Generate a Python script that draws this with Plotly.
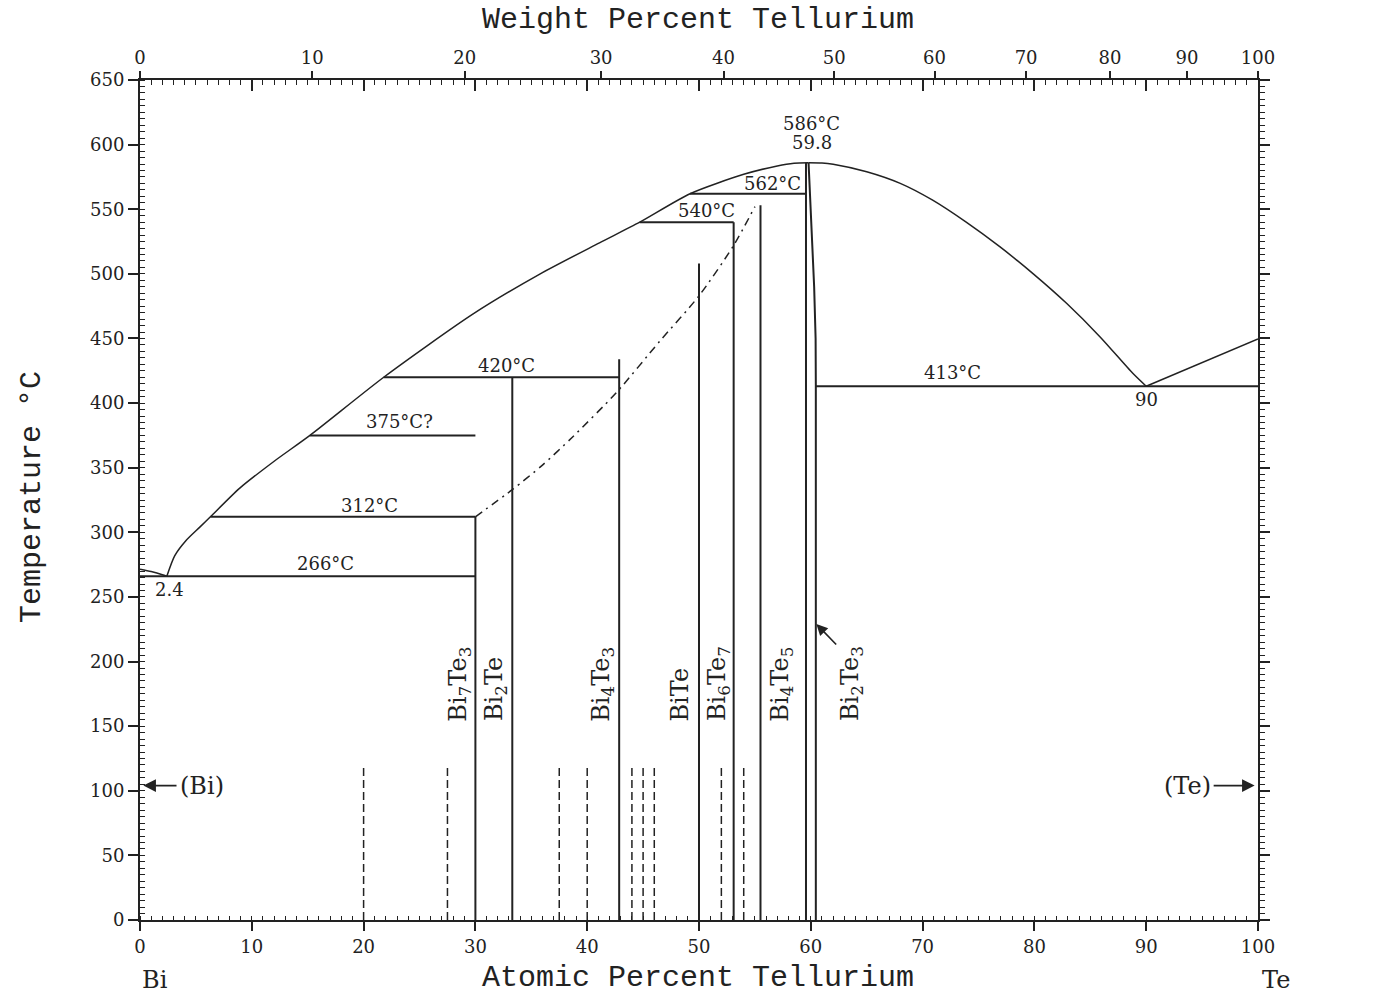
import plotly.graph_objects as go

# ---- Bi-Te phase diagram data (x: atomic percent Te, y: temperature in °C) ----

# (Bi) melting to Bi-rich eutectic
bi_side_x = [0.0, 1.0, 2.0, 2.4]
bi_side_t = [271.442, 269.6, 267.2, 266.0]

# liquidus from the Bi-rich eutectic up to the congruent maximum of Bi2Te3
liq_left_x = [2.4, 3.1, 4.1, 5.35, 6.3, 8.9, 12.0, 15.2, 21.8, 29.8, 35.8, 41.1, 44.7, 49.2, 54.0, 57.0, 58.5, 59.8]
liq_left_t = [266, 281.8, 293.5, 304, 312, 334, 355, 375, 420, 469, 500, 524, 540, 562, 577, 583.5, 585.6, 586]

# liquidus from the maximum down to the Te-rich eutectic
liq_right_x = [59.8, 61.0, 62.0, 65.0, 68.0, 70.9, 73.9, 76.9, 79.9, 82.9, 85.9, 88.8, 90.0]
liq_right_t = [586, 585.8, 584.8, 579, 570, 557, 540, 521, 500, 477, 451, 423, 413]

# Te-rich eutectic to (Te) melting
te_side_x = [90.0, 100.0]
te_side_t = [413, 449.57]

# speculative boundary (dash-dot)
dashdot_x = [30.0, 33.3, 36.0, 38.6, 42.6, 46.5, 50.0, 53.1, 55.0]
dashdot_t = [312, 333, 352, 373, 408, 448, 483, 522, 552]

# isotherms: (left end, right end, temperature)
iso_left = [0.0, 6.3, 15.2, 21.8, 44.7, 49.2, 60.45]
iso_right = [30.0, 30.0, 30.0, 42.86, 53.1, 59.57, 100.0]
iso_temp = [266, 312, 375, 420, 540, 562, 413]

# intermediate phases drawn as vertical lines: (composition, top temperature)
phase_x = [30.0, 33.3, 42.86, 50.0, 53.1, 55.5, 59.57]
phase_top = [312, 420, 434, 508, 540, 553, 586]

# Bi2Te3 Te-rich homogeneity boundary
bi2te3_right_x = [59.8, 59.95, 60.1, 60.3, 60.43, 60.45, 60.45]
bi2te3_right_t = [586, 560, 530, 490, 450, 413, 0]

# short dashed lines for low-temperature phases
dashed_x = [20.0, 27.5, 37.5, 40.0, 44.0, 45.0, 46.0, 52.0, 54.0]
dashed_top = 118

# phase labels
phase_names = ["Bi<sub>7</sub>Te<sub>3</sub>", "Bi<sub>2</sub>Te", "Bi<sub>4</sub>Te<sub>3</sub>", "BiTe",
               "Bi<sub>6</sub>Te<sub>7</sub>", "Bi<sub>4</sub>Te<sub>5</sub>", "Bi<sub>2</sub>Te<sub>3</sub>"]
phase_label_x = [28.5, 31.8, 41.3, 48.3, 51.7, 57.3, 63.6]

# temperature / composition labels: (x, T, text)
note_x = [60.1, 60.1, 56.6, 50.7, 32.8, 23.2, 20.5, 16.6, 2.6, 72.7, 90.0]
note_t = [616, 601.3, 570.3, 549.4, 428.7, 385.4, 321.1, 276, 255.4, 423.3, 402.4]
note_text = ["586°C", "59.8", "562°C", "540°C", "420°C", "375°C?", "312°C", "266°C", "2.4", "413°C", "90"]

# axis ticks
at_ticks = list(range(0, 101, 10))
wt_ticks = [0, 10, 20, 30, 40, 50, 60, 70, 80, 90, 100]
M_BI, M_TE = 208.98, 127.60


def wt_to_at(w):
    if w >= 100:
        return 100.0
    nt = w / M_TE
    nb = (100 - w) / M_BI
    return 100 * nt / (nt + nb)


wt_pos = [wt_to_at(w) for w in wt_ticks]

INK = "#222222"
SERIF = "DejaVu Serif"
MONO = "Liberation Mono, Courier New, monospace"

fig = go.Figure()


def line(x, y, width=2.0, dash="solid", shape="linear"):
    fig.add_trace(go.Scatter(x=x, y=y, mode="lines",
                             line=dict(color=INK, width=width, dash=dash, shape=shape, smoothing=0.7),
                             hoverinfo="skip", showlegend=False))


line(bi_side_x, bi_side_t, 1.5, shape="spline")
line(liq_left_x, liq_left_t, 1.5, shape="spline")
line(liq_right_x, liq_right_t, 1.5, shape="spline")
line(te_side_x, te_side_t, 1.5)
line(dashdot_x, dashdot_t, 1.5, "8px,5px,2px,5px", shape="spline")

for xl, xr, t in zip(iso_left, iso_right, iso_temp):
    line([xl, xr], [t, t], 2.0)

for xp, tp in zip(phase_x, phase_top):
    line([xp, xp], [0, tp], 2.0)

line(bi2te3_right_x, bi2te3_right_t, 2.0)

for xd in dashed_x:
    line([xd, xd], [0, dashed_top], 1.5, "8px,4px")

# placeholder traces so the secondary axes are drawn
fig.add_trace(go.Scatter(x=[0, 100], y=[0, 0], xaxis="x2", yaxis="y", mode="lines",
                         line=dict(width=0), opacity=0, hoverinfo="skip", showlegend=False))
fig.add_trace(go.Scatter(x=[0, 100], y=[0, 0], xaxis="x3", yaxis="y", mode="lines",
                         line=dict(width=0), opacity=0, hoverinfo="skip", showlegend=False))
fig.add_trace(go.Scatter(x=[0, 100], y=[0, 0], xaxis="x", yaxis="y2", mode="lines",
                         line=dict(width=0), opacity=0, hoverinfo="skip", showlegend=False))

ann = []
for xn, tn, s in zip(note_x, note_t, note_text):
    ann.append(dict(x=xn, y=tn, text=s, xref="x", yref="y", showarrow=False,
                    xanchor="center", yanchor="middle",
                    font=dict(family=SERIF, size=18, color=INK)))

ann.append(dict(x=-0.6, y=276, text="271.442", xref="x", yref="y", showarrow=False, xanchor="right",
                yanchor="middle", font=dict(family=SERIF, size=18, color=INK)))
ann.append(dict(x=101.2, y=454.2, text="449.57°C", xref="x", yref="y", showarrow=False, xanchor="left",
                yanchor="middle", font=dict(family=SERIF, size=18, color=INK)))

for xl, s in zip(phase_label_x, phase_names):
    ann.append(dict(x=xl, y=152, text=s, xref="x", yref="y", showarrow=False, textangle=-90,
                    xanchor="center", yanchor="bottom", font=dict(family=SERIF, size=24, color=INK)))

# pure-element solid solutions
ann.append(dict(x=5.55, y=104, text="(Bi)", xref="x", yref="y", showarrow=False,
                xanchor="center", yanchor="middle", font=dict(family=SERIF, size=24, color=INK)))
ann.append(dict(x=93.7, y=104, text="(Te)", xref="x", yref="y", showarrow=False,
                xanchor="center", yanchor="middle", font=dict(family=SERIF, size=24, color=INK)))
ann.append(dict(x=0.3, y=104, ax=3.4, ay=104, xref="x", yref="y", axref="x", ayref="y", text="",
                showarrow=True, arrowhead=2, arrowsize=1.4, arrowwidth=1.8, arrowcolor=INK))
ann.append(dict(x=99.7, y=104, ax=95.9, ay=104, xref="x", yref="y", axref="x", ayref="y", text="",
                showarrow=True, arrowhead=2, arrowsize=1.4, arrowwidth=1.8, arrowcolor=INK))
# pointer to the Bi2Te3 homogeneity range
ann.append(dict(x=60.5, y=229, ax=62.4, ay=212, xref="x", yref="y", axref="x", ayref="y", text="",
                showarrow=True, arrowhead=2, arrowsize=1.4, arrowwidth=1.6, arrowcolor=INK))

# axis titles and end-member symbols
title_font = dict(family=MONO, size=30, color=INK)
ann.append(dict(x=0.499, y=1.0714, xref="paper", yref="paper", text="Weight Percent Tellurium",
                xanchor="center", yanchor="middle", showarrow=False, font=title_font))
ann.append(dict(x=0.499, y=-0.069, xref="paper", yref="paper", text="Atomic Percent Tellurium",
                xanchor="center", yanchor="middle", showarrow=False, font=title_font))
ann.append(dict(x=-0.0966, y=0.5036, xref="paper", yref="paper", text="Temperature °C", textangle=-90,
                xanchor="center", yanchor="middle", showarrow=False, font=title_font))
ann.append(dict(x=0.0134, y=-0.0715, xref="paper", yref="paper", text="Bi",
                xanchor="center", yanchor="middle", showarrow=False,
                font=dict(family=SERIF, size=24, color=INK)))
ann.append(dict(x=1.016, y=-0.0715, xref="paper", yref="paper", text="Te",
                xanchor="center", yanchor="middle", showarrow=False,
                font=dict(family=SERIF, size=24, color=INK)))

tickfont = dict(family=SERIF, size=18, color=INK)
fig.update_layout(
    width=1378, height=996,
    margin=dict(l=140, r=120, t=80, b=76),
    paper_bgcolor="white", plot_bgcolor="white",
    showlegend=False,
    annotations=ann,
    xaxis=dict(range=[0, 100], tickvals=at_ticks, ticks="outside", ticklen=9, tickwidth=1.5,
               tickcolor=INK, showline=True, linewidth=2, linecolor=INK, showgrid=False,
               zeroline=False, tickfont=tickfont,
               minor=dict(dtick=1, ticks="inside", ticklen=4, tickwidth=1.2, tickcolor=INK, showgrid=False)),
    xaxis2=dict(range=[0, 100], overlaying="x", side="top", anchor="y", tickvals=wt_pos,
                ticktext=[str(w) for w in wt_ticks], ticks="outside", ticklen=7, tickwidth=1.5,
                tickcolor=INK, showline=True, linewidth=2, linecolor=INK, showgrid=False,
                zeroline=False, tickfont=tickfont),
    xaxis3=dict(range=[0, 100], overlaying="x", side="top", anchor="y", tickvals=at_ticks,
                showticklabels=False, ticks="inside", ticklen=11, tickwidth=1.5, tickcolor=INK,
                showline=False, showgrid=False, zeroline=False,
                minor=dict(dtick=1, ticks="inside", ticklen=5, tickwidth=1.2, tickcolor=INK, showgrid=False)),
    yaxis=dict(range=[0, 650], dtick=50, ticks="outside", ticklen=10, tickwidth=1.5, tickcolor=INK,
               showline=True, linewidth=2, linecolor=INK, showgrid=False, zeroline=False, tickfont=tickfont,
               minor=dict(dtick=5, ticks="inside", ticklen=5, tickwidth=1.2, tickcolor=INK, showgrid=False)),
    yaxis2=dict(range=[0, 650], overlaying="y", side="right", anchor="x", dtick=50, showticklabels=False,
                ticks="outside", ticklen=10, tickwidth=1.5, tickcolor=INK, showline=True, linewidth=2,
                linecolor=INK, showgrid=False, zeroline=False,
                minor=dict(dtick=5, ticks="outside", ticklen=5, tickwidth=1.2, tickcolor=INK, showgrid=False)),
)

fig.write_html("out.html")
